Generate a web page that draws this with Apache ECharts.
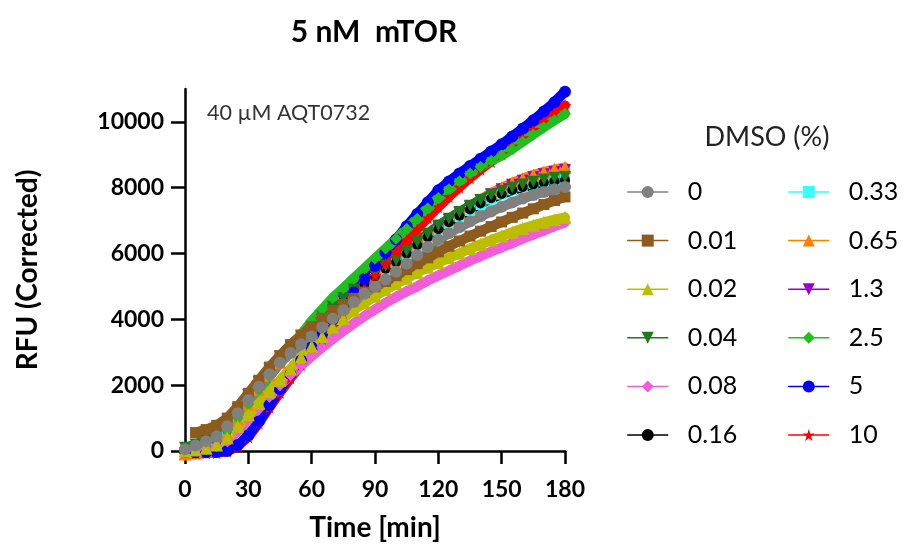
<!DOCTYPE html>
<html><head><meta charset="utf-8">
<script src="https://cdn.jsdelivr.net/npm/echarts@6/dist/echarts.min.js"></script>
<style>html,body{margin:0;padding:0;background:#fff}#c{width:904px;height:550px}</style>
</head><body><div id="c"></div>
<script>
// Time points (min)
const time = [0,5,10,15,20,25,30,35,40,45,50,55,60,65,70,75,80,85,90,95,100,105,110,115,120,125,130,135,140,145,150,155,160,165,170,175,180];
const xTicks = [0,30,60,90,120,150,180];
const yTicks = [0,2000,4000,6000,8000,10000];
const legendCol1 = ['0','0.01','0.02','0.04','0.08','0.16'];
const legendCol2 = ['0.33','0.65','1.3','2.5','5','10'];

// RFU (Corrected) per DMSO %
const dmso_0    = [50,170,300,450,750,1150,1550,1950,2330,2680,2980,3240,3480,3750,4020,4280,4530,4780,5000,5210,5450,5700,5950,6200,6420,6620,6800,6970,7130,7280,7420,7550,7670,7780,7870,7950,8020];
const dmso_0_01 = [null,560,650,780,1000,1350,1750,2150,2550,2900,3230,3520,3780,4030,4270,4450,4640,4820,4990,5150,5330,5510,5690,5870,6050,6220,6380,6530,6680,6820,6960,7100,7230,7360,7490,7610,7720];
const dmso_0_02 = [0,30,80,180,400,750,1100,1450,1800,2150,2500,2850,3180,3480,3770,4030,4280,4500,4700,4900,5080,5250,5420,5580,5720,5870,6010,6150,6280,6410,6530,6650,6760,6860,6950,7030,7100];
const dmso_0_04 = [100,200,330,520,850,1280,1700,2100,2500,2870,3200,3500,3800,4100,4380,4650,4910,5160,5400,5630,5800,6080,6350,6600,6850,7060,7260,7450,7630,7790,7900,8010,8100,8180,8250,8300,8330];
const dmso_0_08 = [0,20,60,150,300,600,950,1300,1650,2000,2300,2600,2880,3150,3400,3650,3880,4100,4300,4500,4680,4850,5000,5180,5330,5480,5630,5780,5920,6060,6190,6320,6450,6580,6700,6830,6950];
const dmso_0_16 = [60,150,280,470,800,1220,1640,2040,2430,2800,3130,3430,3720,4010,4290,4560,4820,5070,5310,5540,5740,6000,6260,6500,6740,6950,7150,7340,7520,7680,7810,7930,8020,8100,8160,8200,8230];
const dmso_0_33 = [-60,-50,0,200,550,1000,1450,1880,2300,2690,3040,3360,3660,3960,4240,4510,4770,5020,5260,5490,5700,5950,6210,6450,6690,6900,7100,7290,7470,7640,7790,7920,8030,8120,8190,8240,8270];
const dmso_0_65 = [-90,-60,0,180,520,980,1430,1870,2300,2700,3060,3390,3700,4000,4290,4570,4840,5100,5350,5590,5800,6060,6320,6570,6810,7030,7240,7440,7640,7840,8000,8150,8280,8390,8480,8560,8620];
const dmso_1_3  = [-70,-60,-20,150,480,940,1400,1840,2270,2680,3040,3370,3680,3980,4270,4550,4820,5080,5330,5570,5790,6050,6310,6560,6800,7020,7230,7430,7620,7800,7950,8090,8210,8320,8410,8480,8540];
const dmso_2_5  = [0,50,150,320,620,1000,1420,1850,2280,2700,3120,3530,3950,4300,4650,4950,5250,5550,5850,6150,6450,6750,7060,7380,7690,7950,8200,8430,8640,8820,8980,9180,9400,9620,9840,10050,10250];
const dmso_5    = [-20,-40,-40,-30,0,180,480,900,1400,1880,2330,2750,3150,3570,3990,4400,4820,5230,5620,6030,6430,6830,7200,7560,7920,8190,8430,8660,8880,9100,9320,9560,9800,10050,10320,10600,10920];
const dmso_10   = [-30,-50,-60,-50,-10,150,430,850,1330,1780,2220,2620,3020,3400,3780,4170,4560,4950,5330,5700,6060,6410,6750,7090,7420,7730,8020,8300,8560,8800,9030,9270,9520,9770,10020,10270,10500];

const STAR = 'path://M50,0 L61,35 L98,35 L68,57 L79,91 L50,70 L21,91 L32,57 L2,35 L39,35 Z';
const INV_TRI = 'path://M0,0 L100,0 L50,90 Z';

// drawing order: bottom -> top
const seriesDefs = [
  {name:'0.33', vals:dmso_0_33, color:'#33FFFF', symbol:'rect', size:10},
  {name:'1.3',  vals:dmso_1_3,  color:'#9900CC', symbol:INV_TRI, size:12},
  {name:'0.65', vals:dmso_0_65, color:'#FF8000', symbol:'triangle', size:13},
  {name:'0.16', vals:dmso_0_16, color:'#000000', symbol:'circle', size:10},
  {name:'0.04', vals:dmso_0_04, color:'#1B7B1B', symbol:INV_TRI, size:12},
  {name:'10',   vals:dmso_10,   color:'#FF0000', symbol:STAR, size:13},
  {name:'5',    vals:dmso_5,    color:'#0000FF', symbol:'circle', size:12},
  {name:'2.5',  vals:dmso_2_5,  color:'#1FBF1F', symbol:'diamond', size:12},
  {name:'0.08', vals:dmso_0_08, color:'#F25CDB', symbol:'diamond', size:12},
  {name:'0.02', vals:dmso_0_02, color:'#BDBD00', symbol:'triangle', size:13},
  {name:'0.01', vals:dmso_0_01, color:'#8E5B1E', symbol:'rect', size:11},
  {name:'0',    vals:dmso_0,    color:'#808080', symbol:'circle', size:12}
];

const series = seriesDefs.map(d => ({
  name: d.name,
  type: 'line',
  data: time.map((t, i) => d.vals[i] == null ? null : [t, d.vals[i]]).filter(p => p),
  symbol: d.symbol,
  symbolSize: d.size,
  showSymbol: true,
  showAllSymbol: true,
  clip: false,
  animation: false,
  silent: true,
  lineStyle: {width: 10, color: d.color, cap: 'round', join: 'round'},
  itemStyle: {color: d.color, borderWidth: 0}
}));

const font = 'Lato';
const legendBase = {
  orient: 'vertical',
  top: 179,
  padding: 0,
  itemWidth: 40,
  itemHeight: 15,
  itemGap: 22.6,
  selectedMode: false,
  lineStyle: {width: 1.5},
  textStyle: {fontFamily: font, fontSize: 25, color: '#000', lineHeight: 26, padding: [0,0,0,15]}
};

const chart = echarts.init(document.getElementById('c'), null, {renderer: 'canvas'});
chart.setOption({
  animation: false,
  backgroundColor: '#fff',
  grid: {left: 185, right: 339, top: 89, bottom: 99},
  legend: [
    Object.assign({}, legendBase, {data: legendCol1, left: 627}),
    Object.assign({}, legendBase, {data: legendCol2, left: 788})
  ],
  xAxis: {
    type: 'value', min: 0, max: 180, interval: 30,
    name: 'Time [min]', nameLocation: 'middle', nameGap: 63,
    nameTextStyle: {fontFamily: font, fontSize: 28, fontWeight: 'bold', color: '#000'},
    axisLine: {lineStyle: {color: '#000', width: 2.5}},
    axisTick: {length: 13, lineStyle: {color: '#000', width: 2.5}, customValues: xTicks},
    axisLabel: {fontFamily: font, fontSize: 23, fontWeight: 'bold', color: '#000', margin: 27, customValues: xTicks},
    splitLine: {show: false}
  },
  yAxis: {
    type: 'value', min: 0, max: 11000, interval: 2000,
    name: 'RFU (Corrected)', nameLocation: 'middle', nameGap: 143, nameRotate: 90,
    nameTextStyle: {fontFamily: font, fontSize: 28, fontWeight: 'bold', color: '#000'},
    axisLine: {show: true, lineStyle: {color: '#000', width: 2.5}},
    axisTick: {show: true, length: 14, lineStyle: {color: '#000', width: 2.5}, customValues: yTicks},
    axisLabel: {fontFamily: font, fontSize: 23, fontWeight: 'bold', color: '#000', margin: 21, customValues: yTicks, formatter: v => String(v)},
    splitLine: {show: false}
  },
  graphic: [
    {type: 'text', x: 374, y: 32, style: {text: '5 nM  mTOR', fontFamily: font, fontSize: 30, fontWeight: 'bold', fill: '#000', align: 'center', verticalAlign: 'middle'}},
    {type: 'text', x: 207, y: 113, style: {text: '40 µM AQT0732', fontFamily: font, fontSize: 21.5, fill: '#333', align: 'left', verticalAlign: 'middle'}},
    {type: 'text', x: 767, y: 137, style: {text: 'DMSO (%)', fontFamily: font, fontSize: 27, fill: '#222', align: 'center', verticalAlign: 'middle'}}
  ],
  series: series
});
</script>
</body></html>
